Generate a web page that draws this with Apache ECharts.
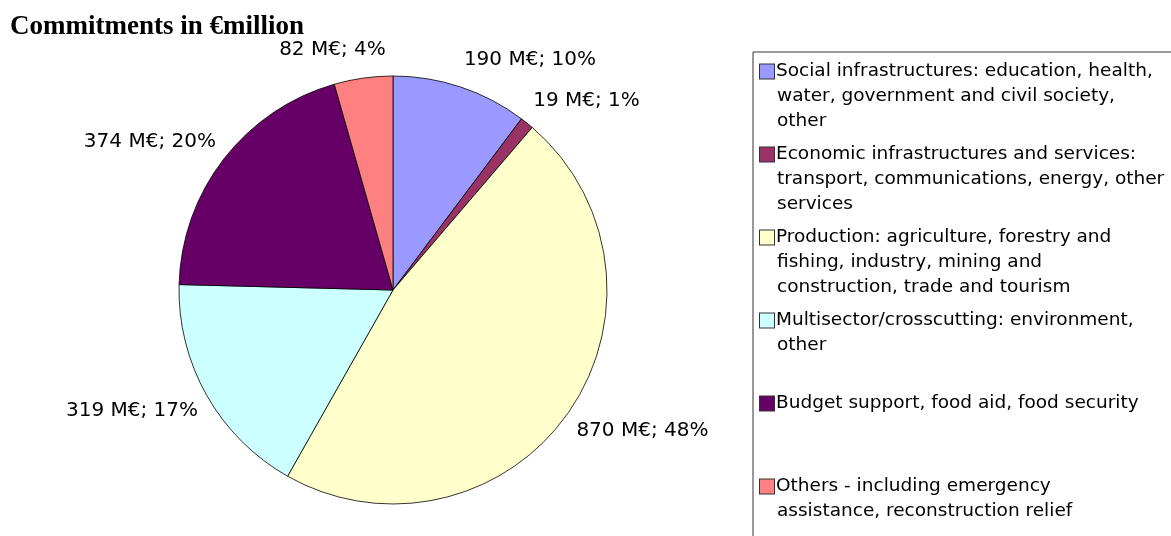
<!DOCTYPE html>
<html>
<head>
<meta charset="utf-8">
<script src="https://cdn.jsdelivr.net/npm/echarts@6/dist/echarts.min.js"></script>
<style>
html, body { margin: 0; padding: 0; background: #fff; }
#chart { width: 1171px; height: 536px; }
</style>
</head>
<body>
<div id="chart"></div>
<script>
// sectors, clockwise from 12 o'clock
var sectors = [
    'Social infrastructures',
    'Economic infrastructures and services',
    'Production',
    'Multisector/crosscutting',
    'Budget support',
    'Others'
];
var commitments = [190, 19, 870, 319, 374, 82];   // M€
var shares = [10, 1, 48, 17, 20, 4];              // % as printed on the chart
var legendLines = [
    ['Social infrastructures: education, health,', 'water, government and civil society,', 'other'],
    ['Economic infrastructures and services:', 'transport, communications, energy, other', 'services'],
    ['Production: agriculture, forestry and', 'fishing, industry, mining and', 'construction, trade and tourism'],
    ['Multisector/crosscutting: environment,', 'other'],
    ['Budget support, food aid, food security'],
    ['Others - including emergency', 'assistance, reconstruction relief']
];
var colors = ['#9999FF', '#993366', '#FFFFCC', '#CCFFFF', '#660066', '#FF8080'];

(function(){
    var myChart = echarts.init(document.getElementById('chart'));
    var CX = 393, CY = 290, R = 214;
    var LH = 24.6;
    var FONT = 'DejaVu Sans, Verdana, sans-serif';
    var total = commitments.reduce(function (a, b) { return a + b; }, 0);

    // legend: coloured box + wrapped text, every item 3 lines tall
    var rich = {
        t: { fontSize: 18.5, lineHeight: LH, color: '#000', fontFamily: FONT },
        sp: { width: 17, lineHeight: LH }
    };
    colors.forEach(function (c, i) {
        rich['b' + i] = { width: 14, height: 14, backgroundColor: c, borderColor: '#333', borderWidth: 1, lineHeight: LH };
        rich['g' + i] = { width: 2, lineHeight: LH };
    });

    option = {
        animation: false,
        color: colors,
        title: {
            text: 'Commitments in €million',
            left: 10,
            top: 14,
            padding: 0,
            textStyle: {
                fontFamily: 'Liberation Serif, Times New Roman, serif',
                fontWeight: 'bold',
                fontSize: 27,
                color: '#000'
            }
        },
        legend: {
            orient: 'vertical',
            left: 753,
            top: 52,
            height: 700,
            padding: [10, 100, 60, 1],
            borderColor: '#333',
            borderWidth: 1,
            itemWidth: 0,
            itemHeight: 0,
            itemGap: 14.8,
            selectedMode: false,
            data: sectors,
            formatter: function (name) {
                var i = sectors.indexOf(name);
                var lines = legendLines[i];
                var out = ['{b' + i + '|}{g' + i + '|}{t|' + lines[0] + '}'];
                for (var k = 1; k < 3; k++) {
                    out.push('{sp|}' + (lines[k] ? '{t|' + lines[k] + '}' : '{t| }'));
                }
                return out.join('\n');
            },
            textStyle: { rich: rich }
        },
        series: [
            {
                type: 'pie',
                center: [CX, CY],
                radius: R,
                startAngle: 90,
                clockwise: true,
                avoidLabelOverlap: false,
                label: {
                    show: true,
                    position: 'outside',
                    fontSize: 20,
                    color: '#000',
                    fontFamily: FONT,
                    formatter: function (p) {
                        return commitments[p.dataIndex] + ' M€; ' + shares[p.dataIndex] + '%';
                    }
                },
                labelLine: { show: false },
                // place labels just outside the slice, Excel style
                labelLayout: function (p) {
                    var i = p.dataIndex, before = 0;
                    for (var k = 0; k < i; k++) before += commitments[k];
                    var a = (before + commitments[i] / 2) / total * Math.PI * 2;
                    var s = Math.sin(a), c = Math.cos(a);
                    var w = p.labelRect.width;
                    var f = Math.max(-1, Math.min(1, 4 * s));
                    return {
                        x: CX + (R + 10) * s + w / 2 * f,
                        y: CY - (R + 30) * c + 1,
                        align: 'center',
                        verticalAlign: 'middle'
                    };
                },
                itemStyle: {
                    borderColor: '#000',
                    borderWidth: 0.8
                },
                emphasis: { disabled: true },
                data: sectors.map(function (name, i) {
                    return { name: name, value: commitments[i] };
                })
            }
        ]
    };
    myChart.setOption(option);
})();
</script>
</body>
</html>
